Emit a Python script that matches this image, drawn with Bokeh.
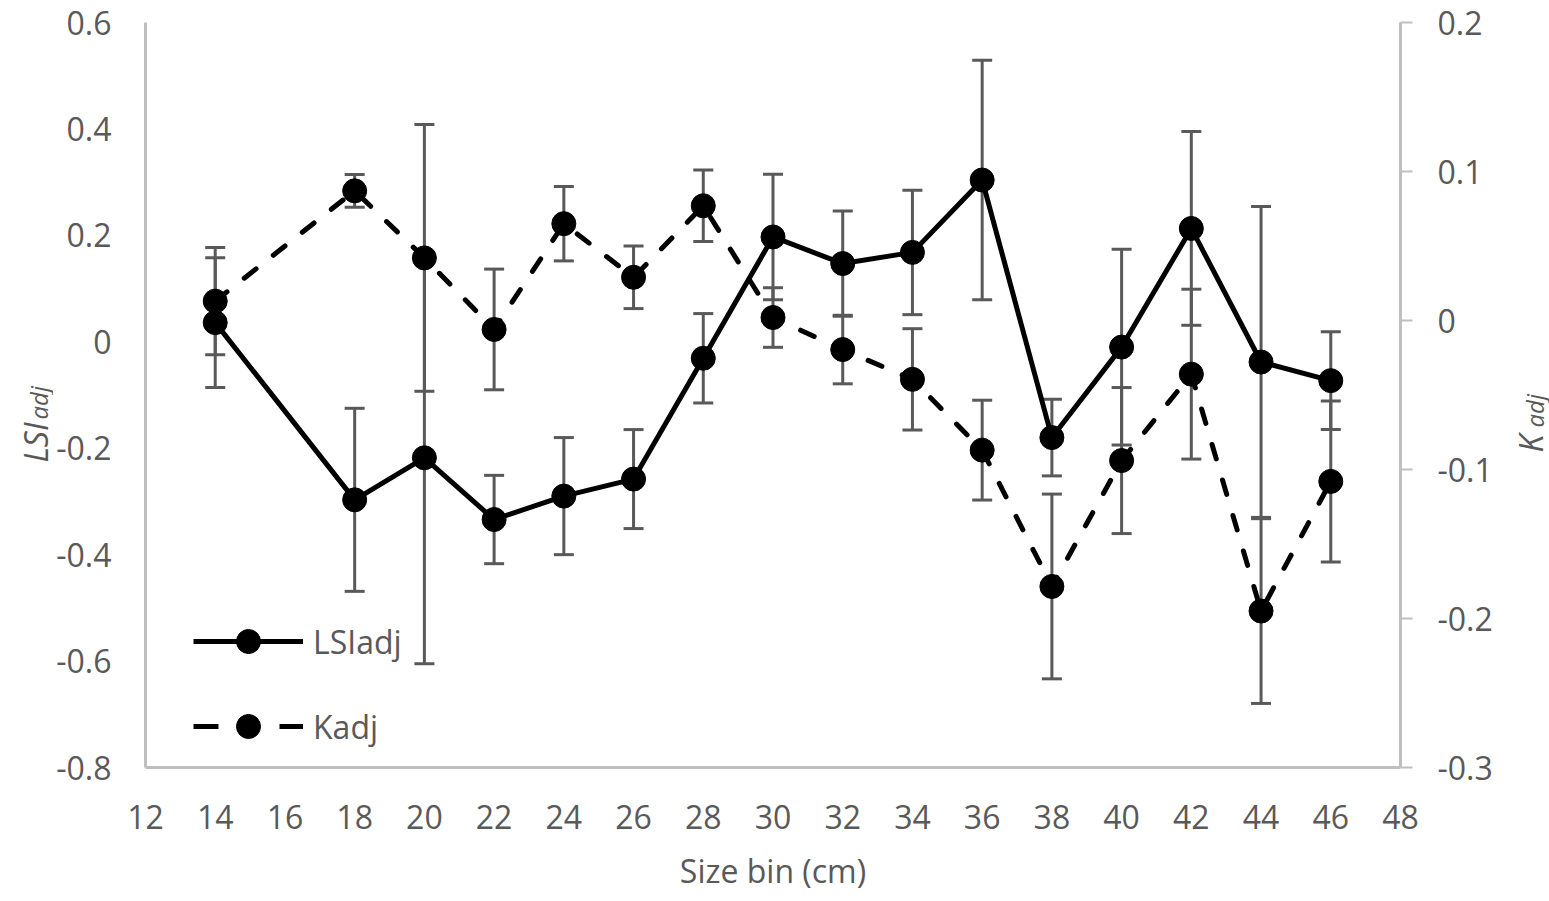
import math
from bokeh.plotting import figure
from bokeh.layouts import row
from bokeh.models import (ColumnDataSource, Range1d, LinearAxis, FixedTicker, CustomJSTickFormatter,
                          Whisker, TeeHead, Legend, LegendItem, Plot, Text)
from bokeh.core.properties import value
from bokeh.embed import file_html
from bokeh.resources import INLINE

# ---- data ----
size_bins = [14, 18, 20, 22, 24, 26, 28, 30, 32, 34, 36, 38, 40, 42, 44, 46]
lsi_adj = [0.036, -0.297, -0.218, -0.334, -0.290, -0.258, -0.031, 0.197, 0.147, 0.168,
           0.304, -0.180, -0.010, 0.213, -0.038, -0.073]
lsi_err = [0.122, 0.172, 0.387, 0.083, 0.110, 0.093, 0.084, 0.118, 0.099, 0.117,
           0.225, 0.072, 0.184, 0.182, 0.292, 0.092]
k_adj = [0.013, 0.087, 0.042, -0.006, 0.065, 0.029, 0.077, 0.002, -0.0195, -0.0395,
         -0.087, -0.1785, -0.094, -0.036, -0.195, -0.108]
k_err = [0.036, 0.011, 0.0895, 0.0405, 0.025, 0.021, 0.024, 0.020, 0.023, 0.034,
         0.0335, 0.062, 0.049, 0.057, 0.062, 0.054]
x_ticks = list(range(12, 49, 2))
left_ticks = [-0.8, -0.6, -0.4, -0.2, 0.0, 0.2, 0.4, 0.6]
right_ticks = [-0.3, -0.2, -0.1, 0.0, 0.1, 0.2]
x_title = "Size bin (cm)"
left_title = ["LSI", "adj"]
right_title = ["K", "adj"]

TXT = "#595959"
AX = "#BFBFBF"
ERR = "#595959"
FONT = "Open Sans"
H = 901
LEFT_W, RIGHT_W = 53, 55

lsi_src = ColumnDataSource(dict(x=size_bins, y=lsi_adj,
                                lo=[v - e for v, e in zip(lsi_adj, lsi_err)],
                                hi=[v + e for v, e in zip(lsi_adj, lsi_err)]))
k_src = ColumnDataSource(dict(x=size_bins, y=k_adj,
                              lo=[v - e for v, e in zip(k_adj, k_err)],
                              hi=[v + e for v, e in zip(k_adj, k_err)]))

p = figure(frame_width=1255, frame_height=745, output_backend="svg", toolbar_location=None,
           x_range=Range1d(12, 48), y_range=Range1d(-0.8, 0.6),
           min_border_left=92, min_border_right=94, min_border_top=22, min_border_bottom=134)
p.outline_line_color = None
p.grid.visible = False
p.extra_y_ranges = {"k": Range1d(-0.3, 0.2)}

yfmt = CustomJSTickFormatter(code="return Math.abs(tick) < 1e-9 ? '0' : tick.toFixed(1);")

def style_axis(ax):
    ax.axis_line_color = AX
    ax.axis_line_width = 3
    ax.major_tick_line_color = None
    ax.minor_tick_line_color = None
    ax.major_label_text_color = TXT
    ax.major_label_text_font = FONT
    ax.major_label_text_font_size = "32px"

xa = p.xaxis[0]
style_axis(xa)
xa.ticker = FixedTicker(ticks=x_ticks)
xa.formatter = CustomJSTickFormatter(code="return tick.toFixed(0);")
xa.major_tick_out = 0
xa.major_label_standoff = 37
xa.axis_label = x_title
xa.axis_label_text_font = FONT
xa.axis_label_text_font_size = "32px"
xa.axis_label_text_font_style = "normal"
xa.axis_label_text_color = TXT
xa.axis_label_standoff = 17

ya = p.yaxis[0]
style_axis(ya)
ya.ticker = FixedTicker(ticks=left_ticks)
ya.formatter = yfmt
ya.major_tick_out = 0
ya.major_label_standoff = 34

ra = LinearAxis(y_range_name="k", ticker=FixedTicker(ticks=right_ticks), formatter=yfmt)
style_axis(ra)
ra.major_tick_line_color = AX
ra.major_tick_line_width = 2
ra.major_tick_out = 12
ra.major_tick_in = 0
ra.major_label_standoff = 25
p.add_layout(ra, "right")

# error bars
for src, rng in ((lsi_src, "default"), (k_src, "k")):
    w = Whisker(source=src, base="x", upper="hi", lower="lo", line_color=ERR, line_width=3,
                upper_head=TeeHead(size=20, line_color=ERR, line_width=3),
                lower_head=TeeHead(size=20, line_color=ERR, line_width=3),
                y_range_name=rng, level="underlay")
    p.add_layout(w)

l1 = p.line("x", "y", source=lsi_src, line_color="black", line_width=5, line_join="round")
s1 = p.scatter("x", "y", source=lsi_src, size=24, fill_color="black", line_color="black")
l2 = p.line("x", "y", source=k_src, line_color="black", line_width=5, line_dash="15 22",
            line_cap="round", y_range_name="k")
s2 = p.scatter("x", "y", source=k_src, size=24, fill_color="black", line_color="black",
               y_range_name="k")
# legend-only dashed line (no visible data)
l2_leg = p.line(x=[float("nan")], y=[float("nan")], line_color="black", line_width=5,
                line_dash="25 61")

legend = Legend(items=[LegendItem(label="LSIadj", renderers=[l1, s1]),
                       LegendItem(label="Kadj", renderers=[l2_leg, s2])],
                location=(48, 11), glyph_width=110, glyph_height=60, label_height=60,
                label_standoff=10, spacing=25, padding=0, margin=0,
                border_line_color=None, background_fill_alpha=0,
                label_text_font=FONT, label_text_font_size="32px", label_text_color=TXT)
p.add_layout(legend)

# side strips (bare Plot models) holding the rotated axis titles with subscripts
def side_plot(width, items):
    f = Plot(width=width, height=H, frame_width=width, frame_height=H,
             x_range=Range1d(0, width), y_range=Range1d(0, H),
             min_border=0, min_border_left=0, min_border_right=0, min_border_top=0,
             min_border_bottom=0, toolbar_location=None, outline_line_color=None,
             output_backend="svg")
    for x, y, text, size in items:
        src = ColumnDataSource(dict(x=[x], y=[y], t=[text]))
        f.add_glyph(src, Text(x="x", y="y", text="t", angle=math.pi / 2, text_align="left",
                              text_baseline="alphabetic", text_font=value(FONT),
                              text_font_size=value(size), text_font_style=value("italic"),
                              text_color=TXT))
    return f

lf = side_plot(LEFT_W, [(34.5, H - 440, left_title[0], "32px"),
                        (38, H - 397, left_title[1], "24px")])
rf = side_plot(RIGHT_W, [(35, H - 430, right_title[0], "32px"),
                         (38.5, H - 405, right_title[1], "24px")])

layout = row(lf, p, rf, spacing=0)
open("out.html", "w").write(file_html(layout, INLINE))
